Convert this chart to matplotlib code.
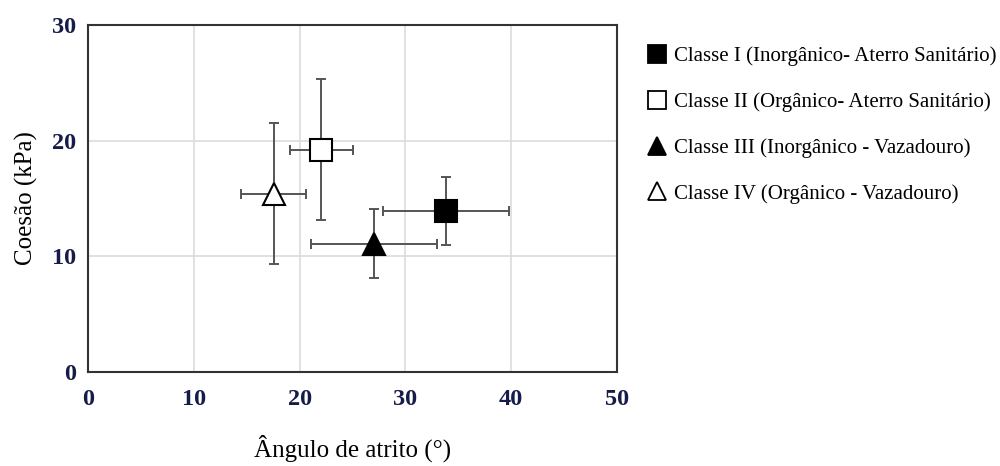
import matplotlib.pyplot as plt
from matplotlib.lines import Line2D

# data
labels = ['Classe I (Inorgânico- Aterro Sanitário)',
          'Classe II (Orgânico- Aterro Sanitário)',
          'Classe III (Inorgânico - Vazadouro)',
          'Classe IV (Orgânico - Vazadouro)']
phi = [33.85, 22.05, 27.05, 17.55]
phi_err = [5.95, 2.95, 5.95, 3.05]
coesao = [13.95, 19.2, 11.1, 15.4]
coesao_err = [2.95, 6.1, 3.0, 6.1]

markers = ['s', 's', '^', '^']
faces = ['black', 'white', 'black', 'white']

plt.rcParams['font.family'] = ['Liberation Serif', 'DejaVu Serif']

fig = plt.figure(figsize=(10, 4.66), dpi=100)
ax = fig.add_axes([0.088, 0.2017, 0.529, 0.7447])

for i in range(len(labels)):
    ax.errorbar(phi[i], coesao[i], xerr=phi_err[i], yerr=coesao_err[i],
                fmt='none', ecolor='#555555', elinewidth=1.4,
                capsize=3.6, capthick=1.4, zorder=3)
    ax.plot(phi[i], coesao[i], marker=markers[i], markersize=16,
            markerfacecolor=faces[i], markeredgecolor='black',
            markeredgewidth=1.5, linestyle='none', zorder=4)

ax.set_xlim(0, 50)
ax.set_ylim(0, 30)
ax.set_xticks([0, 10, 20, 30, 40, 50])
ax.set_yticks([0, 10, 20, 30])
ax.grid(True, color='#dcdcdc', linewidth=1.2)
ax.set_axisbelow(True)
for s in ax.spines.values():
    s.set_color('#333333')
    s.set_linewidth(1.5)

tick_color = '#161c4a'
ax.tick_params(axis='both', length=0, labelsize=17.5, labelcolor=tick_color)
ax.tick_params(axis='x', pad=12)
ax.tick_params(axis='y', pad=8.5)
for t in ax.get_xticklabels() + ax.get_yticklabels():
    t.set_fontweight('bold')

ax.set_xlabel('Ângulo de atrito (°)', fontsize=18, labelpad=18)
ax.set_ylabel('Coesão (kPa)', fontsize=18, labelpad=10)

handles = []
for i in range(len(labels)):
    handles.append(Line2D([], [], marker=markers[i], markersize=13,
                          markerfacecolor=faces[i], markeredgecolor='black',
                          markeredgewidth=1.3, linestyle='none'))
fig.legend(handles, labels, loc='upper left', bbox_to_anchor=(0.648, 0.900),
           frameon=False, fontsize=15, handlelength=0.9, handletextpad=0.35,
           labelspacing=1.25, borderaxespad=0, borderpad=0)

plt.savefig('out.png')
